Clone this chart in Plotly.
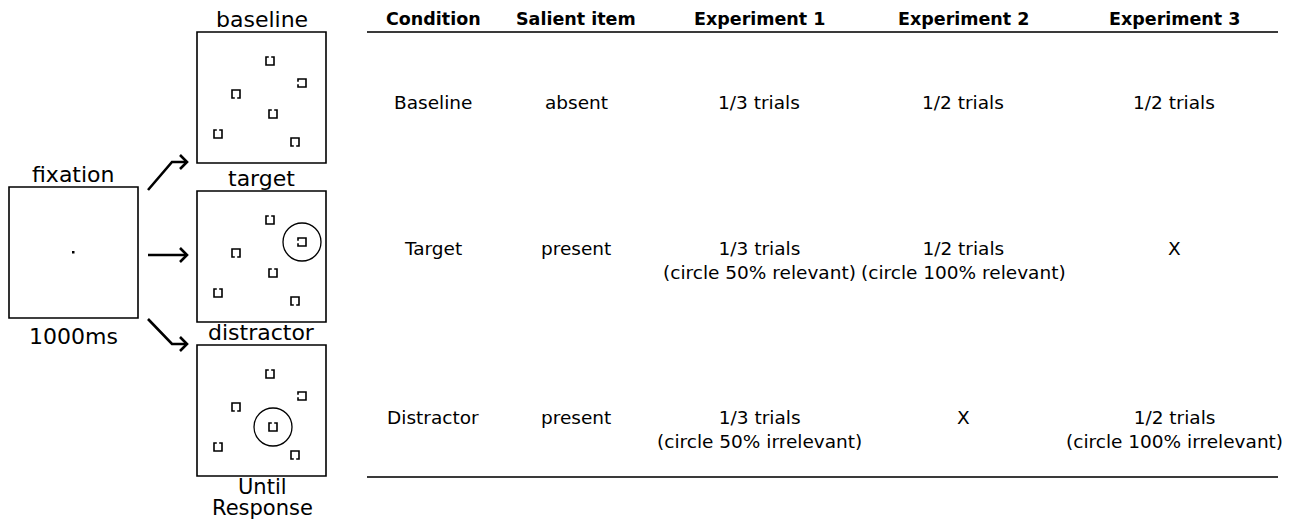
import plotly.graph_objects as go

# ---------------- data ----------------
headers = ["Condition", "Salient item", "Experiment 1", "Experiment 2", "Experiment 3"]
conditions = ["Baseline", "Target", "Distractor"]
salient = ["absent", "present", "present"]
exp1 = ["1/3 trials", "1/3 trials<br>(circle 50% relevant)", "1/3 trials<br>(circle 50% irrelevant)"]
exp2 = ["1/2 trials", "1/2 trials<br>(circle 100% relevant)", "X"]
exp3 = ["1/2 trials", "X", "1/2 trials<br>(circle 100% irrelevant)"]

panel_labels = ["baseline", "target", "distractor"]
fixation_label = "fixation"
fixation_time = "1000ms"
until_label = ["Until", "Response"]

# stimulus items (offset inside a display box) and the side of their gap
item_dx = [73, 105, 39, 76, 21, 98]
item_dy = [29, 51, 62, 82, 102, 110]
item_gap = ["top", "left", "bottom", "top", "top", "bottom"]
circled_item = [None, 1, 3]

# ---------------- layout constants ----------------
W, H = 1295, 525
OFF = 8  # page body margin: make data coordinates equal page pixels
FONT = "DejaVu Sans"
box_x0, box_w, box_h = 197, 129, 131
box_y0 = [32, 191, 345]
fix_box = (9, 187, 138, 318)
col_x = [433, 576, 759, 963, 1174]
row_y = [102, 260, 429]
header_y = 19
line_x = (367, 1278)
line_y = [32, 477]

fig = go.Figure()
shapes = []
annotations = []

# fixation box
shapes.append(dict(type="rect", x0=fix_box[0], y0=fix_box[1], x1=fix_box[2], y1=fix_box[3],
                   line=dict(color="black", width=1.6)))
shapes.append(dict(type="rect", x0=72, y0=251, x1=74.5, y1=253.5, line=dict(width=0),
                   fillcolor="black"))
annotations.append(dict(x=73, y=174, text=fixation_label, font=dict(size=22)))
annotations.append(dict(x=73, y=336, text=fixation_time, font=dict(size=22)))

# display boxes
hs = 4
def item_path(cx, cy, side):
    g = 1.2
    pts = {
        "top": [(cx - g, cy - hs), (cx - hs, cy - hs), (cx - hs, cy + hs), (cx + hs, cy + hs), (cx + hs, cy - hs), (cx + g, cy - hs)],
        "bottom": [(cx - g, cy + hs), (cx - hs, cy + hs), (cx - hs, cy - hs), (cx + hs, cy - hs), (cx + hs, cy + hs), (cx + g, cy + hs)],
        "left": [(cx - hs, cy - g), (cx - hs, cy - hs), (cx + hs, cy - hs), (cx + hs, cy + hs), (cx - hs, cy + hs), (cx - hs, cy + g)],
        "right": [(cx + hs, cy - g), (cx + hs, cy - hs), (cx - hs, cy - hs), (cx - hs, cy + hs), (cx + hs, cy + hs), (cx + hs, cy + g)],
    }[side]
    return pts

xs, ys = [], []
for p, y0 in enumerate(box_y0):
    shapes.append(dict(type="rect", x0=box_x0, y0=y0, x1=box_x0 + box_w, y1=y0 + box_h,
                       line=dict(color="black", width=1.6)))
    annotations.append(dict(x=box_x0 + box_w / 2, y=y0 - 13, text=panel_labels[p], font=dict(size=22)))
    for i in range(len(item_dx)):
        cx, cy = box_x0 + item_dx[i], y0 + item_dy[i]
        for (px, py) in item_path(cx, cy, item_gap[i]):
            xs.append(px); ys.append(py)
        xs.append(None); ys.append(None)
        if circled_item[p] == i:
            r = 19
            shapes.append(dict(type="circle", x0=cx - r, y0=cy - r, x1=cx + r, y1=cy + r,
                               line=dict(color="black", width=1.3)))

fig.add_trace(go.Scatter(x=xs, y=ys, mode="lines", line=dict(color="black", width=1.6),
                         hoverinfo="skip", showlegend=False))

annotations.append(dict(x=262, y=487, text=until_label[0], font=dict(size=21)))
annotations.append(dict(x=262, y=508, text=until_label[1], font=dict(size=21)))

# arrows
arrow_paths = [
    "M148,190 L172,162 L187,162", "M180,155 L187,162 L180,169",
    "M148,255 L187,255", "M180,248 L187,255 L180,262",
    "M148,319 L172,344 L187,344", "M180,337 L187,344 L180,351",
]
for pth in arrow_paths:
    shapes.append(dict(type="path", path=pth, line=dict(color="black", width=2.6)))

# table lines
for ly in line_y:
    shapes.append(dict(type="line", x0=line_x[0], x1=line_x[1], y0=ly, y1=ly,
                       line=dict(color="#3a3a3a", width=2)))

# table text
for c, h in enumerate(headers):
    annotations.append(dict(x=col_x[c], y=header_y, text="<b>" + h + "</b>", font=dict(size=17.5)))
columns = [conditions, salient, exp1, exp2, exp3]
for c, col in enumerate(columns):
    for r, val in enumerate(col):
        yy = row_y[r]
        if "<br>" not in val:
            yy = row_y[r] - 12 if r > 0 else row_y[r]
        annotations.append(dict(x=col_x[c], y=yy, text=val, font=dict(size=18.5)))

for a in annotations:
    a.update(xref="x", yref="y", showarrow=False, xanchor="center", yanchor="middle")
    a["font"].update(family=FONT, color="black")

fig.update_layout(
    width=W, height=H, margin=dict(l=0, r=0, t=0, b=0),
    paper_bgcolor="white", plot_bgcolor="white",
    xaxis=dict(range=[OFF, W + OFF], visible=False, fixedrange=True),
    yaxis=dict(range=[H + OFF, OFF], visible=False, fixedrange=True),
    shapes=shapes, annotations=annotations, showlegend=False,
)
fig.write_html("out.html")
